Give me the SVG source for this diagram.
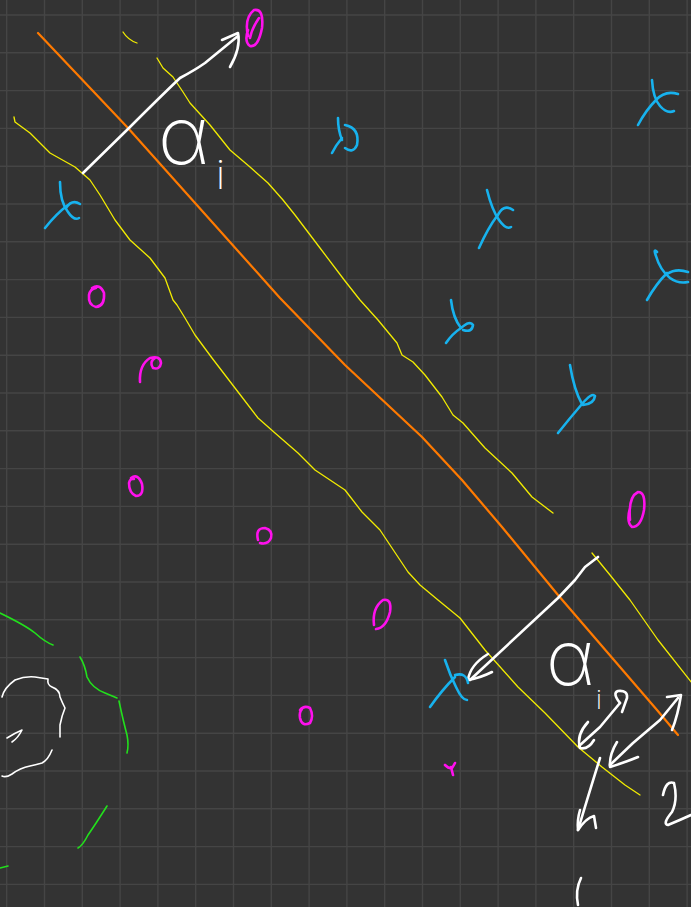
<svg xmlns="http://www.w3.org/2000/svg" width="691" height="907" viewBox="0 0 691 907">
<style>
.grid{stroke:#454545;stroke-width:1.4;fill:none}
.org{stroke:#ff7a00;stroke-width:2.2;fill:none;stroke-linecap:round;stroke-linejoin:round}
.yel{stroke:#f2ec00;stroke-width:1.3;fill:none;stroke-linecap:round;stroke-linejoin:round}
.wht{stroke:#ffffff;stroke-width:2.6;fill:none;stroke-linecap:round;stroke-linejoin:round}
.wthin{stroke:#ffffff;stroke-width:1.6;fill:none;stroke-linecap:round;stroke-linejoin:round}
.blu{stroke:#17b2ee;stroke-width:2.6;fill:none;stroke-linecap:round;stroke-linejoin:round}
.mag{stroke:#ff10ee;stroke-width:2.6;fill:none;stroke-linecap:round;stroke-linejoin:round}
.grn{stroke:#22e01c;stroke-width:1.6;fill:none;stroke-linecap:round;stroke-linejoin:round}
.lbl{fill:#ffffff;font-family:Inter,"DejaVu Sans",sans-serif;font-weight:200}
</style>
<rect x="0" y="0" width="691" height="907" fill="#333333"/>
<path class="grid" d="M6.7,0V907M44.5,0V907M82.3,0V907M120.1,0V907M157.9,0V907M195.7,0V907M233.5,0V907M271.3,0V907M309.1,0V907M346.9,0V907M384.7,0V907M422.5,0V907M460.3,0V907M498.1,0V907M535.9,0V907M573.7,0V907M611.5,0V907M649.3,0V907M687.1,0V907M0,15H691M0,52.8H691M0,90.6H691M0,128.4H691M0,166.2H691M0,204H691M0,241.8H691M0,279.6H691M0,317.4H691M0,355.2H691M0,393H691M0,430.8H691M0,468.6H691M0,506.4H691M0,544.2H691M0,582H691M0,619.8H691M0,657.6H691M0,695.4H691M0,733.2H691M0,771H691M0,808.8H691M0,846.6H691M0,884.4H691"/>

<g id="boundaries">
<polyline class="org" points="38,33 128,128 280,298 345,365 422,437 462,480 502,527 558,595 657,710 678,735"/>
<path class="yel" d="M157,58 L163,68 L173,77 L183,92 L190,103 L210,125 L230,150 L250,167 L268,183 L283,200 L295,215 L320,248 L345,281 L360,300 L378,320 L397,343 L402,355 L413,362 L425,375 L442,397 L453,415 L463,423 L485,448 L512,473 L532,497 L553,513"/>
<path class="yel" d="M14,117 L15,122 L30,133 L50,153 L75,167 L90,180 L100,195 L115,220 L130,240 L150,258 L165,278 L173,300 L177,305 L185,318 L195,335 L212,358 L235,388 L258,418 L275,433 L298,453 L315,470 L345,490 L362,512 L380,530 L390,545 L408,572 L420,585 L438,600 L460,618 L485,650 L518,687 L545,713 L578,747 L602,767 L625,785 L640,795"/>
<path class="yel" d="M592,553 L610,575 L630,600 L658,640 L692,683"/>
<path class="yel" d="M123,32 Q128,40 137,43"/>
</g>

<g id="margin-arrows">
<path class="wht" d="M83,173 L130,127 Q160,97 180,78 Q195,70 205,63 L238,36"/>
<path class="wht" d="M222,40 L238,33 Q241,48 230,67"/>
<path class="wht" d="M598,557 L585,567 L575,580 L558,598 L470,680"/>
<path class="wht" d="M488,654 Q470,665 468,680 Q480,678 492,672"/>
<path class="wht" d="M579,746 L600,727 L620,703"/>
<path class="wht" d="M620,703 Q612,693 618,691 Q628,690 627,698 L622,712"/>
<path class="wht" d="M588,722 Q576,735 580,748 Q588,750 594,740"/>
<path class="wht" d="M610,765 L633,743 L660,720 L678,698"/>
<path class="wht" d="M617,742 Q609,755 610,767 Q626,762 638,757"/>
<path class="wht" d="M667,697 L681,695 Q678,715 672,730"/>
<path class="wht" d="M600,758 Q590,790 578,830"/>
<path class="wht" d="M580,810 Q577,820 578,830 Q586,818 594,816 L596,828"/>
<path class="wht" d="M581,878 Q575,890 578,905"/>
<path class="wht" d="M663,795 Q666,780 674,783 Q678,800 672,812 Q662,824 668,825 Q680,820 691,815"/>
</g>

<g id="labels">
<text class="lbl" x="158" y="164" font-size="80">α</text>
<text class="lbl" x="216" y="189" font-size="40">i</text>
<text class="lbl" x="546" y="685" font-size="76">α</text>
<text class="lbl" x="596" y="709" font-size="26">i</text>
</g>

<g id="positive-points">
<path class="blu" d="M60,182 Q60,202 68,212 Q74,221 79,218 M80,204 Q72,199 66,208 M45,228 Q56,214 68,205"/>
<path class="blu" d="M652,80 Q653,98 660,106 Q667,114 674,111 M678,94 Q665,90 656,100 M638,125 Q646,110 656,100"/>
<path class="blu" d="M487,190 Q492,210 499,220 Q506,230 511,227 M513,210 Q503,203 497,217 M479,248 Q488,228 497,216"/>
<path class="blu" d="M657,252 Q653,248 656,256 Q660,270 670,278 Q678,284 688,282 M688,272 Q676,268 667,274 M647,300 Q656,284 667,273"/>
<path class="blu" d="M451,300 Q453,318 461,328 Q470,320 473,325 Q472,333 463,330 M446,343 Q452,334 461,328"/>
<path class="blu" d="M570,365 Q574,390 582,404 Q592,392 595,396 Q594,404 583,405 M558,433 Q570,418 582,404"/>
<path class="blu" d="M338,118 Q338,130 342,140 M345,125 Q360,128 357,145 Q353,154 345,148 M332,153 Q336,145 342,138"/>
<path class="blu" d="M445,660 Q450,675 456,687 Q462,700 467,700 M468,683 Q466,672 455,675 M430,707 Q442,690 455,677"/>
</g>

<g id="negative-points">
<path class="mag" d="M248,36 Q244,18 254,10 Q264,8 262,28 Q258,48 250,46 Q244,42 248,30 M250,38 Q252,28 259,18"/>
<path class="mag" d="M92,288 Q100,283 104,293 Q105,306 96,307 Q88,305 89,295 Q90,289 96,288"/>
<path class="mag" d="M140,382 Q139,365 150,358 Q160,355 161,363 Q160,370 153,368 Q149,362 155,358"/>
<path class="mag" d="M131,478 Q138,473 142,484 Q144,496 136,496 Q129,493 129,483 Q130,478 134,479"/>
<path class="mag" d="M258,540 Q255,528 265,528 Q273,530 271,538 Q268,545 260,543"/>
<path class="mag" d="M374,625 Q372,608 383,600 Q392,598 390,612 Q386,628 376,629"/>
<path class="mag" d="M630,520 Q628,497 638,492 Q646,492 644,510 Q641,527 632,527 Q626,522 630,508"/>
<path class="mag" d="M300,710 Q304,705 310,708 Q314,716 310,723 Q302,727 300,718 Q299,712 302,709"/>
<path class="mag" d="M445,765 Q449,769 452,768 Q454,765 455,763 M451,767 L453,775"/>
</g>

<g id="cluster">
<path class="wthin" d="M2,697 Q4,688 15,680 Q25,676 35,677 L48,679 Q47,685 52,687 Q60,690 60,697 Q62,702 65,708 Q62,715 60,725 L60,737"/>
<path class="wthin" d="M52,750 Q48,760 42,763 Q35,765 30,766 Q20,768 12,774 Q6,778 2,776"/>
<path class="wthin" d="M7,738 Q15,733 22,730 Q18,738 12,742"/>
<path class="grn" d="M0,613 Q25,625 35,633 Q45,642 53,645"/>
<path class="grn" d="M80,657 Q85,665 87,677 Q92,688 105,693 L117,698"/>
<path class="grn" d="M119,701 Q123,720 127,735 Q129,745 127,753"/>
<path class="grn" d="M107,806 Q95,825 88,835 Q83,845 78,848"/>
<path class="grn" d="M0,868 L8,866"/>
</g>
</svg>
